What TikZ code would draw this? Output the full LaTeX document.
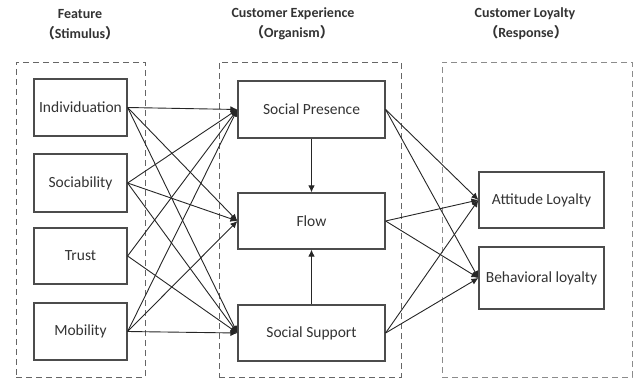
\documentclass[tikz,border=0pt]{standalone}
\usepackage{fontspec}
\setmainfont{Carlito}
\newfontfamily\cjk{Noto Sans CJK SC}
\usetikzlibrary{arrows.meta}
\begin{document}
\begin{tikzpicture}[x=1pt,y=-1pt,
  box/.style={draw=black!70, line width=1.2pt, fill=white, inner sep=0pt,
    font=\fontsize{15.5}{18}\selectfont, text=black!80},
  grp/.style={draw=black!60, dash pattern=on 6pt off 4pt, line width=0.9pt, inner sep=0pt},
  ttl/.style={font=\bfseries\fontsize{14}{16}\selectfont, text=black!80, inner sep=0pt},
  arr/.style={-{Latex[length=7pt,width=6.5pt]}, line width=0.9pt, draw=black!85}]
\useasboundingbox (0,0) rectangle (634,379);
% group frames
\node[grp, minimum width=129pt, minimum height=315pt] (g1) at (80.5,219.5) {};
\node[grp, minimum width=182pt, minimum height=315pt] (g2) at (310,219.5) {};
\node[grp, minimum width=190pt, minimum height=315pt, draw=black!45] (g3) at (537,219.5) {};
% titles
\node[ttl] (t1a) at (80,14) {Feature};
\node[ttl] (t1b) at (80,33) {{\cjk （}Stimulus{\cjk ）}};
\node[ttl] (t2a) at (293,14) {Customer Experience};
\node[ttl] (t2b) at (292,33) {{\cjk （}Organism{\cjk ）}};
\node[ttl] (t3a) at (525,14) {Customer Loyalty};
\node[ttl] (t3b) at (526,33) {{\cjk （}Response{\cjk ）}};
% stimulus boxes
\node[box, minimum width=93pt, minimum height=57pt] (ind) at (80.5,107.5) {Individuation};
\node[box, minimum width=93pt, minimum height=58pt] (soc) at (80.5,183) {Sociability};
\node[box, minimum width=93pt, minimum height=56pt] (tru) at (80.5,256) {Trust};
\node[box, minimum width=93pt, minimum height=57pt] (mob) at (80.5,331.5) {Mobility};
% organism boxes
\node[box, minimum width=147pt, minimum height=57pt] (sp) at (311.5,109.5) {Social Presence};
\node[box, minimum width=147pt, minimum height=56pt] (fl) at (311.5,221) {Flow};
\node[box, minimum width=147pt, minimum height=56pt] (ss) at (311.5,333) {Social Support};
% response boxes
\node[box, minimum width=125pt, minimum height=56pt] (al) at (541.5,200) {Attitude Loyalty};
\node[box, minimum width=125pt, minimum height=62pt] (bl) at (541.5,278) {Behavioral loyalty};
% stimulus -> organism
\draw[arr] (ind.east) -- (sp.west);
\draw[arr] (ind.east) -- (fl.west);
\draw[arr] (ind.east) -- (ss.west);
\draw[arr] (soc.east) -- (sp.west);
\draw[arr] (soc.east) -- (fl.west);
\draw[arr] (soc.east) -- (ss.west);
\draw[arr] (tru.east) -- (sp.west);
\draw[arr] (tru.east) -- (ss.west);
\draw[arr] (mob.east) -- (sp.west);
\draw[arr] (mob.east) -- (fl.west);
\draw[arr] (mob.east) -- (ss.west);
% within organism
\draw[arr] (sp.south) -- (fl.north);
\draw[arr] (ss.north) -- (fl.south);
% organism -> response
\draw[arr] (sp.east) -- (al.west);
\draw[arr] (sp.east) -- (bl.west);
\draw[arr] (fl.east) -- (al.west);
\draw[arr] (fl.east) -- (bl.west);
\draw[arr] (ss.east) -- (al.west);
\draw[arr] (ss.east) -- (bl.west);
\end{tikzpicture}
\end{document}
